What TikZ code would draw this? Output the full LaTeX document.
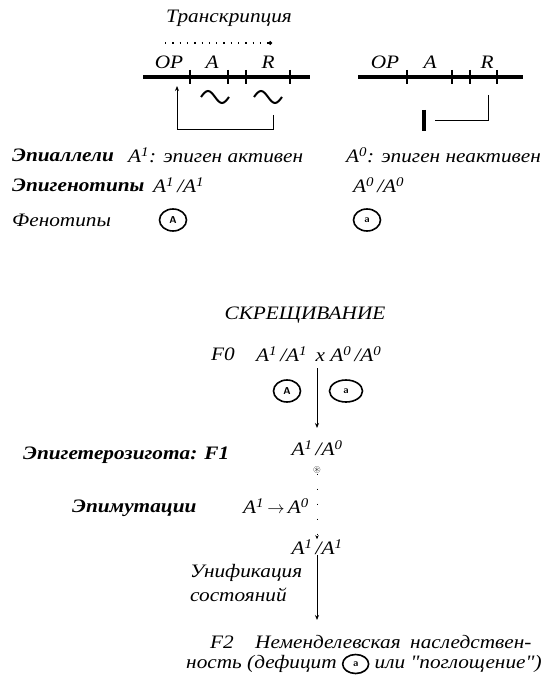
\documentclass[tikz,border=0pt]{standalone}
\usepackage{amssymb}
\usepackage{fontspec}
\setmainfont{Liberation Serif}
\newfontfamily\widefont[FakeStretch=1.12]{Liberation Serif}
\usetikzlibrary{arrows.meta,shapes.geometric,positioning}
\newcommand\Asup[1]{\textit{A}\textsuperscript{#1}}
\begin{document}
\begin{tikzpicture}[x=1pt,y=-1pt,
  txt/.style={font=\widefont\fontsize{19}{21}\selectfont\itshape, inner sep=0pt},
  head/.style={font=\widefont\fontsize{19}{21}\selectfont\bfseries\itshape, inner sep=0pt},
  chrom/.style={line width=3.2pt},
  tk/.style={line width=1.2pt},
  pheno/.style={draw, ellipse, line width=1.6pt, minimum width=27pt, minimum height=22pt,
    inner sep=0pt, font=\sffamily\bfseries\fontsize{10}{10}\selectfont},
  link/.style={line width=1pt},
  arr/.style={line width=1pt, -{Stealth[length=5pt,width=4pt]}},
]
\useasboundingbox (0,0) rectangle (541,684);

% --- active operon ---
\node[txt] (tr) at (229,18) {Транскрипция};
\coordinate (d1) at (165,43);
\coordinate (d2) at (272,43);
\draw[line width=1.3pt, dash pattern=on 1.3pt off 6pt, -{Circle[length=3.5pt]}] (d1) -- (d2);
\draw[chrom] (143,77) -- (310,77);
\foreach \x in {190,228,246,290} \draw[tk] (\x,70) -- (\x,84);
\node[txt] (opL) at (169,62) {OP};
\node[txt] (aL) at (212,62) {A};
\node[txt] (rL) at (268,62) {R};
\draw[line width=2pt] (201,97) sin (208,91) cos (215,97) sin (222,103) cos (229,97);
\draw[line width=2pt] (254,97) sin (261,91) cos (268,97) sin (275,103) cos (282,97);
\coordinate (fb1) at (273,115);
\coordinate (fbc) at (177,130);
\coordinate (fb2) at (177,86);
\draw[link, -{Stealth[length=5pt,width=4pt]}] (fb1) |- (fbc) -- (fb2);

% --- inactive operon ---
\draw[chrom] (358,77) -- (523,77);
\foreach \x in {407,452,470,497} \draw[tk] (\x,70) -- (\x,84);
\node[txt] (opR) at (385,62) {OP};
\node[txt] (aR) at (430,62) {A};
\node[txt] (rR) at (487,62) {R};
\coordinate (rb1) at (488,95);
\coordinate (rb2) at (435,121);
\draw[link] (rb1) |- (rb2);
\draw[line width=3.2pt] (424,110) -- (424,131);

% --- epialleles, epigenotypes, phenotypes ---
\node[head, anchor=west] (ea) at (12,155) {Эпиаллели};
\node[txt, anchor=west] (a1) at (128,155) {\Asup{1}: эпиген активен};
\node[txt, anchor=west] (a0) at (346,155) {\Asup{0}: эпиген неактивен};
\node[head, anchor=west] (eg) at (12,185) {Эпигенотипы};
\node[txt, anchor=west] (g1) at (153,185) {\Asup{1}\,/\Asup{1}};
\node[txt, anchor=west] (g0) at (353,185) {\Asup{0}\,/\Asup{0}};
\node[txt, anchor=west] (ph) at (12,220) {Фенотипы};
\node[pheno] (pA) at (173,220) {A};
\node[pheno] (pa) at (367,220) {a};

% --- crossing ---
\node[txt] (cr) at (305,315) {СКРЕЩИВАНИЕ};
\node[txt, anchor=west] (f0) at (211,354) {F0};
\node[txt, anchor=west] (p0) at (256,354) {\Asup{1}\,/\Asup{1}\, x \Asup{0}\,/\Asup{0}};
\node[pheno] (eA) at (287,391) {A};
\node[pheno, minimum width=33pt] (ea0) at (346,391) {a};
\coordinate (c0) at (317,368);
\coordinate (c1) at (317,428);
\draw[arr] (c0) -- (c1);

\node[head, anchor=west] (eh) at (23,455) {Эпигетерозигота: F1};
\node[txt] (f1) at (317,448) {\Asup{1}\,/\Asup{0}};
\node[inner sep=0pt, font=\fontsize{10}{10}\selectfont] (ox) at (317,470) {$\circledast$};
\node[head, anchor=west] (em) at (72,508) {Эпимутации};
\node[txt, anchor=west] (mut) at (243,506) {\Asup{1}\,$\rightarrow$\,\Asup{0}};
\node[txt] (a11) at (317,547) {\Asup{1}\,/\Asup{1}};
\draw[line width=1pt, dash pattern=on 1pt off 14pt, -{Stealth[length=4pt,width=3.5pt]}] (ox.south) -- (a11.north);

\node[txt, anchor=west] (u1) at (190,573) {Унификация};
\node[txt, anchor=west] (u2) at (190,595) {состояний};
\coordinate (c2) at (317,620);
\draw[arr] (a11.south) -- (c2);

\node[txt, anchor=west] (f2) at (210,642) {F2};
\node[txt, anchor=west] (nm1) at (255,642) {Неменделевская};
\node[txt, anchor=west] (nm2) at (410,642) {наследствен-};
\node[txt, anchor=west] (l2) at (186,664) {ность (дефицит};
\node[pheno, minimum width=26pt, minimum height=19pt, right=5pt of l2] (pd) {a};
\node[txt, right=5pt of pd] (l3) {или "поглощение")};
\end{tikzpicture}
\end{document}
